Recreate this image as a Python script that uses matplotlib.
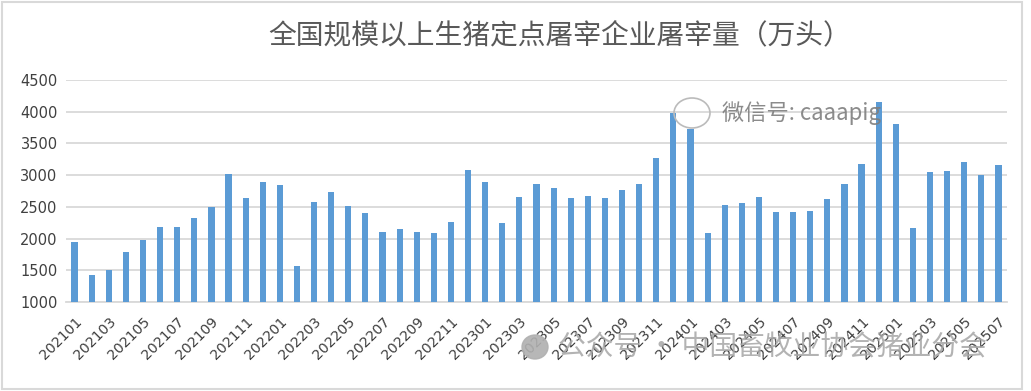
import numpy as np
import matplotlib.pyplot as plt
from matplotlib.patches import Rectangle, Ellipse

plt.rcParams['font.family'] = ['Noto Sans CJK SC', 'DejaVu Sans']

# 月份 202101 - 202507
months = []
for yr in range(2021, 2026):
    for m in range(1, 13):
        if yr == 2025 and m > 7:
            break
        months.append(f"{yr}{m:02d}")

# 屠宰量（万头）
values = [1952, 1419, 1497, 1795, 1984, 2188, 2188, 2329, 2502, 3019, 2643, 2894,
          2847, 1560, 2580, 2737, 2517, 2407, 2109, 2156, 2109, 2093, 2266, 3082,
          2894, 2250, 2658, 2862, 2800, 2643, 2674, 2643, 2768, 2862, 3271, 3982,
          3726, 2093, 2533, 2564, 2658, 2423, 2423, 2439, 2627, 2862, 3176, 4150,
          3804, 2172, 3051, 3067, 3208, 3004, 3161]

title = "全国规模以上生猪定点屠宰企业屠宰量（万头）"

W, H = 1031, 391
fig = plt.figure(figsize=(W/100, H/100), dpi=100)
ax = fig.add_axes([66/W, 1 - 302/H, (1007-66)/W, (302-80)/H])

x = np.arange(len(months))
ax.bar(x, values, width=0.36, color='#5B9BD5', zorder=3)

ax.set_xlim(-0.5, len(months) - 0.5)
ax.set_ylim(1000, 4500)
ax.set_yticks(range(1000, 4501, 500))
ax.yaxis.grid(True, color='#D9D9D9', linewidth=1.3, zorder=0)
ax.set_xticks(x[::2])
ax.set_xticklabels(months[::2], rotation=45, ha='right', rotation_mode='anchor',
                   fontsize=10.2, color='#404040', family='DejaVu Sans')
for lab in ax.get_yticklabels():
    lab.set_fontsize(10.5)
    lab.set_color('#404040')
    lab.set_family('DejaVu Sans')
ax.tick_params(axis='both', length=0, pad=6)
ax.tick_params(axis='x', pad=9)
for s in ['top', 'right', 'left']:
    ax.spines[s].set_visible(False)
ax.spines['bottom'].set_color('#D9D9D9')
ax.spines['bottom'].set_linewidth(1.3)

fig.text(560/W, 1 - 35/H, title, ha='center', va='center',
         fontsize=20, color='#595959')

# 边框
fig.patches.append(Rectangle((2/W, 2/H), 1020/W, 387/H, transform=fig.transFigure,
                             fill=False, edgecolor='#D9D9D9', linewidth=1.5))

# 水印
fig.text(722/W, 1 - 113/H, "微信号: caaapig", ha='left', va='center',
         fontsize=16, color='#7F7F7F', alpha=0.9, zorder=5)
fig.patches.append(Ellipse((692/W, 1 - 113/H), 36/W, 30/H, transform=fig.transFigure,
                           fill=False, edgecolor='#BBBBBB', linewidth=1.2))
fig.patches.append(Ellipse((535/W, 1 - 347/H), 26/W, 24/H, transform=fig.transFigure,
                           color='#B0B0B0', alpha=0.9))
fig.text(558/W, 1 - 347/H, "公众号 · 中国畜牧业协会猪业分会", ha='left', va='center',
         fontsize=20, color='#A6A6A6', alpha=0.85, zorder=5)

fig.savefig('out.png', dpi=100)
